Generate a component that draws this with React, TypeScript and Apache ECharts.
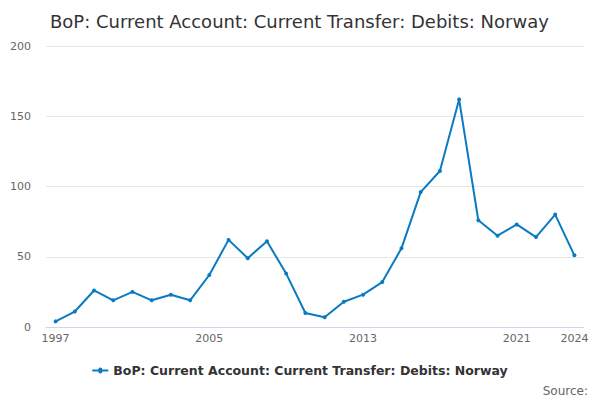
import React, { useEffect, useRef } from "react";
import * as echarts from "echarts";

const years = [
  "1997", "1998", "1999", "2000", "2001", "2002", "2003", "2004", "2005", "2006",
  "2007", "2008", "2009", "2010", "2011", "2012", "2013", "2014", "2015", "2016",
  "2017", "2018", "2019", "2020", "2021", "2022", "2023", "2024",
];
const debits = [
  4, 11, 26, 19, 25, 19, 23, 19, 37, 62,
  49, 61, 38, 10, 7, 18, 23, 32, 56, 96,
  111, 162, 76, 65, 73, 64, 80, 51,
];
const labelYears = ["1997", "2005", "2013", "2021", "2024"];
const seriesName = "BoP: Current Account: Current Transfer: Debits: Norway";

const font = "DejaVu Sans, Verdana, sans-serif";

const App = () => {
  const chartRef = useRef<HTMLDivElement>(null);

  useEffect(() => {
    const myChart = echarts.init(chartRef.current!, null, { renderer: "svg" });
    const last = years.length - 1;
    const option = {
      animation: false,
      textStyle: { fontFamily: font },
      title: {
        text: "BoP: Current Account: Current Transfer: Debits: Norway",
        left: 45,
        top: 7,
        textStyle: { fontSize: 18, fontWeight: "normal", color: "#333333", fontFamily: font },
      },
      legend: {
        bottom: 18,
        left: "center",
        icon: "path://M0,4 L6,4 A2,2 0 1,1 10,4 L16,4 L16,6 L10,6 A2,2 0 1,1 6,6 L0,6 Z",
        itemWidth: 16,
        itemHeight: 6,
        itemGap: 5,
        textStyle: { fontSize: 12.5, fontWeight: "bold", color: "#333333", fontFamily: font },
        data: [seriesName],
      },
      graphic: [
        {
          type: "text",
          right: 12,
          bottom: 3,
          style: { text: "Source:", fontSize: 12, fill: "#666666", fontFamily: font },
        },
      ],
      grid: { left: 46, right: 16, top: 46, bottom: 73 },
      xAxis: {
        type: "category",
        data: years,
        boundaryGap: true,
        axisLine: { lineStyle: { color: "#ccd6eb" } },
        axisTick: {
          alignWithLabel: true,
          length: 10,
          lineStyle: { color: "#ccd6eb" },
          interval: (i: number) => (i % 2 === 0 && i < last - 1) || i === last,
        },
        axisLabel: {
          color: "#666666",
          fontSize: 11,
          margin: 6,
          interval: (i: number, v: string) => labelYears.includes(v),
        },
        splitLine: { show: false },
      },
      yAxis: {
        type: "value",
        min: 0,
        max: 200,
        interval: 50,
        axisLine: { show: false },
        axisTick: { show: false },
        axisLabel: { color: "#666666", fontSize: 11, margin: 15 },
        splitLine: { lineStyle: { color: "#e6e6e6" } },
      },
      series: [
        {
          name: seriesName,
          type: "line",
          data: debits,
          symbol: "circle",
          symbolSize: 4,
          lineStyle: { color: "#0a7bc1", width: 2 },
          itemStyle: { color: "#0a7bc1" },
        },
      ],
    };
    myChart.setOption(option);
    return () => {
      myChart.dispose();
    };
  }, []);

  return (
    <div
      ref={chartRef}
      style={{ position: "absolute", left: 0, top: 0, width: 600, height: 400 }}
    ></div>
  );
};

export default App;
